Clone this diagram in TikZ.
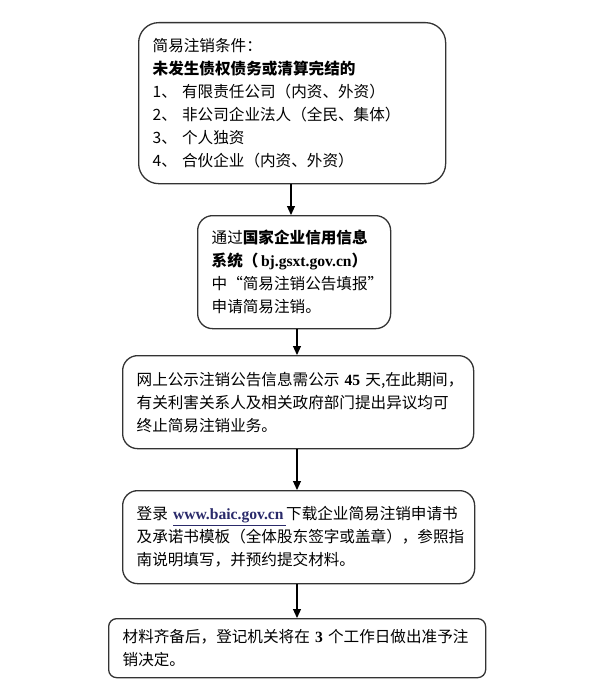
\documentclass[tikz,border=0pt]{standalone}
\usepackage{fontspec}
\setmainfont{Noto Sans CJK SC}
\newfontfamily\latinserif{Liberation Serif}
\usetikzlibrary{arrows.meta}
\definecolor{boxline}{HTML}{333333}
\definecolor{urlblue}{HTML}{2A2A6A}
\tikzset{
  stepbox/.style={draw=boxline, line width=1.3pt, rounded corners=#1, align=left,
    inner xsep=14pt, inner ysep=0pt, anchor=north west,
    font=\fontsize{15.6pt}{23pt}\selectfont},
  stepbox/.default=15pt,
  flow/.style={draw=black, line width=1.1pt, -{Triangle[length=9pt,width=8pt]}}
}
\newcommand{\lat}[1]{{\latinserif\bfseries #1}}
\newcommand{\oneline}[1]{\mbox{#1}}
\newcommand{\myul}[1]{\leavevmode\vtop{\hbox{#1}\kern1.2pt\hrule height 1.1pt}}
\begin{document}
\begin{tikzpicture}[x=1pt,y=-1pt]
\useasboundingbox (0,0) rectangle (594,693);
\node[stepbox=20pt, text width=279pt, minimum height=161pt] (b1) at (138,22)
  {\oneline{简易注销条件：}\\\oneline{\textbf{未发生债权债务或清算完结的}}\\\oneline{1、\ 有限责任公司（内资、外资）}\\\oneline{2、\ 非公司企业法人（全民、集体）}\\\oneline{3、\ 个人独资}\\\oneline{4、\ 合伙企业（内资、外资）}};
\node[stepbox, text width=165pt, minimum height=113pt] (b2) at (197,215)
  {\oneline{通过\textbf{国家企业信用信息}}\\\oneline{\textbf{系统（\,\lat{bj.gsxt.gov.cn}）}}\\\oneline{中“简易注销公告填报”}\\\oneline{申请简易注销。}};
\node[stepbox, text width=323pt, minimum height=93pt] (b3) at (122,355)
  {\oneline{网上公示注销公告信息需公示 \lat{45} 天,在此期间，}\\\oneline{有关利害关系人及相关政府部门提出异议均可}\\\oneline{终止简易注销业务。}};
\node[stepbox, text width=324pt, minimum height=93pt] (b4) at (122,490)
  {\oneline{登录 {\color{urlblue}\myul{\lat{www.baic.gov.cn\,}}}下载企业简易注销申请书}\\\oneline{及承诺书模板（全体股东签字或盖章），参照指}\\\oneline{南说明填写，并预约提交材料。}};
\node[stepbox=8pt, text width=349pt, minimum height=59pt] (b5) at (108,618)
  {\oneline{材料齐备后，登记机关将在 \lat{3} 个工作日做出准予注}\\\oneline{销决定。}};
\coordinate (a1) at (291,0);
\coordinate (a2) at (297,0);
\draw[flow] (b1.south -| a1) -- (b2.north -| a1);
\draw[flow] (b2.south -| a2) -- (b3.north -| a2);
\draw[flow] (b3.south -| a2) -- (b4.north -| a2);
\draw[flow] (b4.south -| a2) -- (b5.north -| a2);
\end{tikzpicture}
\end{document}
